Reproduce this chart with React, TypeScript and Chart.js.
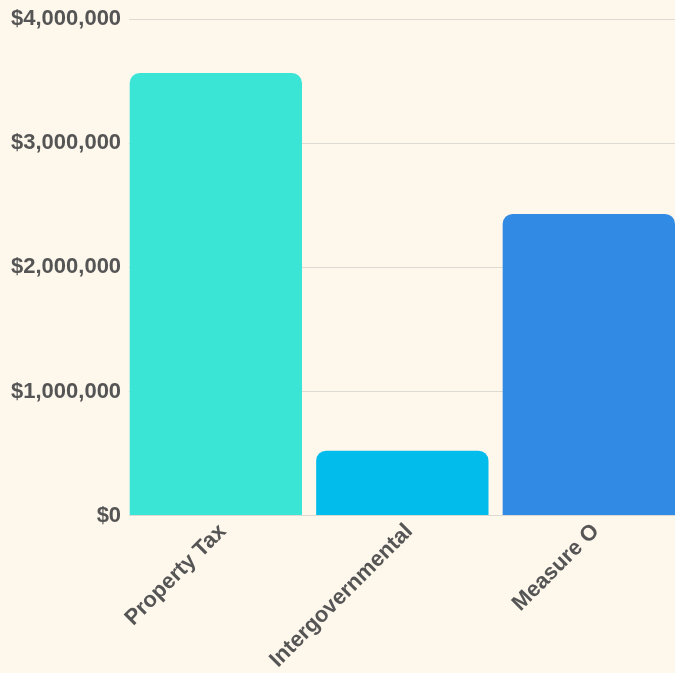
import React, { useEffect, useRef } from "react";
import { Chart, registerables } from "chart.js";

Chart.register(...registerables);

const categories = ["Property Tax", "Intergovernmental", "Measure O"];
const values = [3565000, 523000, 2430000];
const barColors = ["#3ae5d5", "#02bcec", "#318ae4"];
const yTicks = [0, 1000000, 2000000, 3000000, 4000000];

export default function App() {
  const ref = useRef<HTMLCanvasElement | null>(null);
  useEffect(() => {
    document.body.style.margin = "0";
    const ctx = ref.current!;
    const font = { family: "'Liberation Sans', Arial, sans-serif", size: 22, weight: "bold" as const };
    const chart = new Chart(ctx, {
      type: "bar",
      data: {
        datasets: [
          {
            data: values.map((v, i) => ({ x: i, y: v })),
            backgroundColor: barColors,
            borderRadius: { topLeft: 10, topRight: 10, bottomLeft: 0, bottomRight: 0 },
            borderSkipped: false,
            barPercentage: 1,
            categoryPercentage: 0.924,
          },
        ],
      },
      options: {
        responsive: false,
        animation: false,
        maintainAspectRatio: false,
        layout: { padding: { left: 3, top: 3, right: 0, bottom: 5 } },
        plugins: { legend: { display: false }, tooltip: { enabled: false } },
        scales: {
          x: {
            type: "linear",
            offset: false,
            min: -0.465,
            max: 2.462,
            afterBuildTicks: (axis: any) => {
              axis.ticks = categories.map((_, i) => ({ value: i }));
            },
            grid: { display: false },
            border: { display: true, color: "#dcdad2" },
            ticks: {
              color: "#555555",
              font,
              minRotation: 45,
              maxRotation: 45,
              autoSkip: false,
              padding: -5,
              labelOffset: 7,
              callback: (v: any) => categories[Math.round(Number(v))] ?? "",
            },
          },
          y: {
            min: 0,
            max: 4000000,
            afterBuildTicks: (axis: any) => {
              axis.ticks = yTicks.map((v) => ({ value: v }));
            },
            grid: { color: "#dcdad2", drawTicks: false },
            border: { display: false },
            ticks: {
              color: "#555555",
              padding: 8,
              font: { ...font, lineHeight: 1.0 },
              callback: (v: any) => "$" + Number(v).toLocaleString("en-US"),
            },
          },
        },
      },
    });
    return () => chart.destroy();
  }, []);
  return (
    <div style={{ width: 675, height: 673, background: "#fef7ec" }}>
      <canvas ref={ref} width={675} height={673} style={{ display: "block", width: 675, height: 673 }} />
    </div>
  );
}
